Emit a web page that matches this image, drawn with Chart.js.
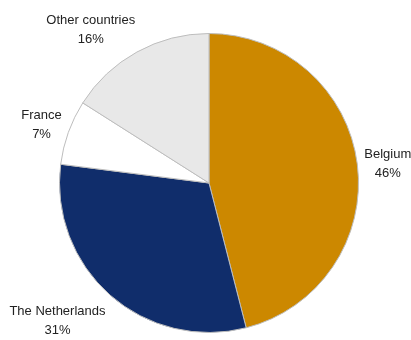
<!DOCTYPE html>
<html><head><meta charset="utf-8">
<script src="https://cdn.jsdelivr.net/npm/chart.js@4"></script>
<style>html,body{margin:0;padding:0;background:#fff}#wrap{width:411px;height:340px}</style>
</head><body><div id="wrap"><canvas id="c" width="411" height="340"></canvas></div>
<script>
const categories = ["Belgium", "The Netherlands", "France", "Other countries"];
const shares = [46, 31, 7, 16];
const colors = ["#CC8800", "#102D6B", "#FFFFFF", "#E8E8E8"];

const FONT = '"Liberation Sans", Arial, sans-serif';
const labelPlugin = {
  id: 'outLabels',
  afterDatasetsDraw(chart) {
    const ctx = chart.ctx;
    const meta = chart.getDatasetMeta(0);
    ctx.save();
    ctx.font = '13px ' + FONT;
    ctx.fillStyle = '#222';
    ctx.textAlign = 'center';
    ctx.textBaseline = 'middle';
    const lh = 19;
    meta.data.forEach((arc, i) => {
      const p = arc.getProps(['x','y','startAngle','endAngle','outerRadius'], true);
      const mid = (p.startAngle + p.endAngle) / 2;
      const dx = Math.cos(mid), dy = Math.sin(mid);
      const r = p.outerRadius + 7;
      const px = p.x + dx * r, py = p.y + dy * r;
      const lines = [categories[i], shares[i] + '%'];
      const w = Math.max(...lines.map(l => ctx.measureText(l).width));
      const h = lh * lines.length;
      const fx = Math.max(-1, Math.min(1, dx * 2));
      const fy = Math.max(-1, Math.min(1, dy * 1.2));
      const cx = px + fx * w / 2, cy = py + fy * h / 2 + 3;
      lines.forEach((l, k) => ctx.fillText(l, cx, cy - h / 2 + lh / 2 + k * lh));
    });
    ctx.restore();
  }
};

new Chart(document.getElementById('c'), {
  type: 'pie',
  data: {
    labels: categories,
    datasets: [{
      data: shares,
      backgroundColor: colors,
      borderColor: '#BDBDBD',
      borderWidth: 1
    }]
  },
  options: {
    responsive: false,
    animation: false,
    layout: { padding: { top: 33, bottom: 7, left: 59, right: 52 } },
    plugins: { legend: { display: false }, tooltip: { enabled: false } }
  },
  plugins: [labelPlugin]
});
</script></body></html>
